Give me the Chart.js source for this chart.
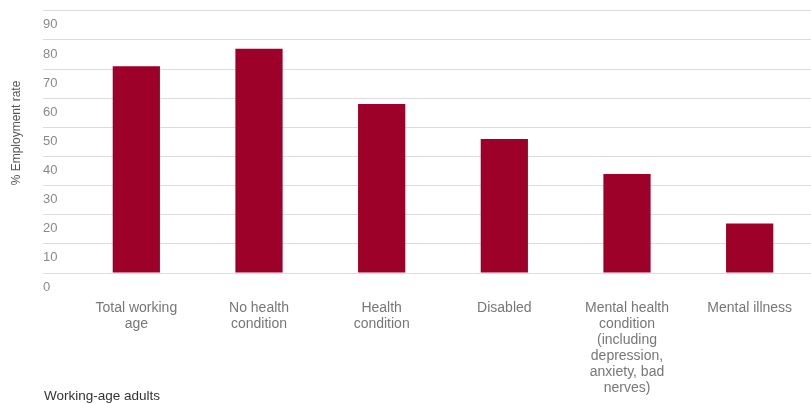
<!DOCTYPE html>
<html lang="en">
<head>
    <meta charset="UTF-8">
    <title>Employment rate</title>
    <script src="https://cdn.jsdelivr.net/npm/chart.js"></script>
    <style>
        html, body { margin: 0; padding: 0; background: #fff; overflow: hidden; }
        #wrap { width: 811px; height: 404px; }
    </style>
</head>
<body>
    <div id="wrap"><canvas id="grafico"></canvas></div>

    <script>
        const categorias = [
            ['Total working', 'age'],
            ['No health', 'condition'],
            ['Health', 'condition'],
            'Disabled',
            ['Mental health', 'condition', '(including', 'depression,', 'anxiety, bad', 'nerves)'],
            'Mental illness'
        ];
        const tasaEmpleo = [71, 77, 58, 46, 34, 17];
        const yMax = 90;
        const yPaso = 10;
        const tituloY = '% Employment rate';
        const notaPie = 'Working-age adults';

        const FUENTE = "'Liberation Sans', Arial, sans-serif";

        // titulo del eje y y nota abajo a la izquierda
        const textosPlugin = {
            id: 'textos',
            afterDraw(chart) {
                const c = chart.ctx;
                c.save();
                c.font = '12px ' + FUENTE;
                c.fillStyle = '#555';
                c.textBaseline = 'middle';
                c.textAlign = 'center';
                c.translate(17, 133);
                c.rotate(-Math.PI / 2);
                c.fillText(tituloY, 0, 0);
                c.restore();

                c.save();
                c.font = '13.5px ' + FUENTE;
                c.fillStyle = '#333';
                c.textBaseline = 'middle';
                c.textAlign = 'left';
                c.fillText(notaPie, 44, 396);
                c.restore();
            }
        };

        const ctx = document.getElementById('grafico').getContext('2d');
        const chart = new Chart(ctx, {
            type: 'bar',
            data: {
                labels: categorias,
                datasets: [{
                    label: tituloY,
                    data: tasaEmpleo,
                    backgroundColor: '#9d0029',
                    borderWidth: 0,
                    categoryPercentage: 1,
                    barPercentage: 0.385
                }]
            },
            options: {
                responsive: true,
                maintainAspectRatio: false,
                animation: false,
                layout: { padding: { top: 10, right: 0, bottom: 0, left: 43 } },
                plugins: {
                    legend: { display: false },
                    tooltip: { enabled: false }
                },
                scales: {
                    x: {
                        grid: { display: false, drawTicks: false },
                        border: { display: false },
                        ticks: {
                            color: '#777',
                            font: { family: FUENTE, size: 14, lineHeight: 1.15 },
                            padding: 27,
                            maxRotation: 0,
                            autoSkip: false
                        },
                        afterFit(scale) {
                            scale.height = 131;
                            scale.paddingLeft = 0;
                            scale.paddingRight = 0;
                        }
                    },
                    y: {
                        min: 0,
                        max: yMax,
                        border: { display: false },
                        grid: {
                            color: '#dcdcdc',
                            lineWidth: 1,
                            drawTicks: true,
                            tickLength: 32,
                            tickColor: '#dcdcdc'
                        },
                        ticks: {
                            stepSize: yPaso,
                            color: '#8a8a8a',
                            font: { family: FUENTE, size: 13 },
                            crossAlign: 'far',
                            labelOffset: 14
                        },
                        afterFit(scale) { scale.width = 32; }
                    }
                }
            },
            plugins: [textosPlugin]
        });
    </script>
</body>
</html>
